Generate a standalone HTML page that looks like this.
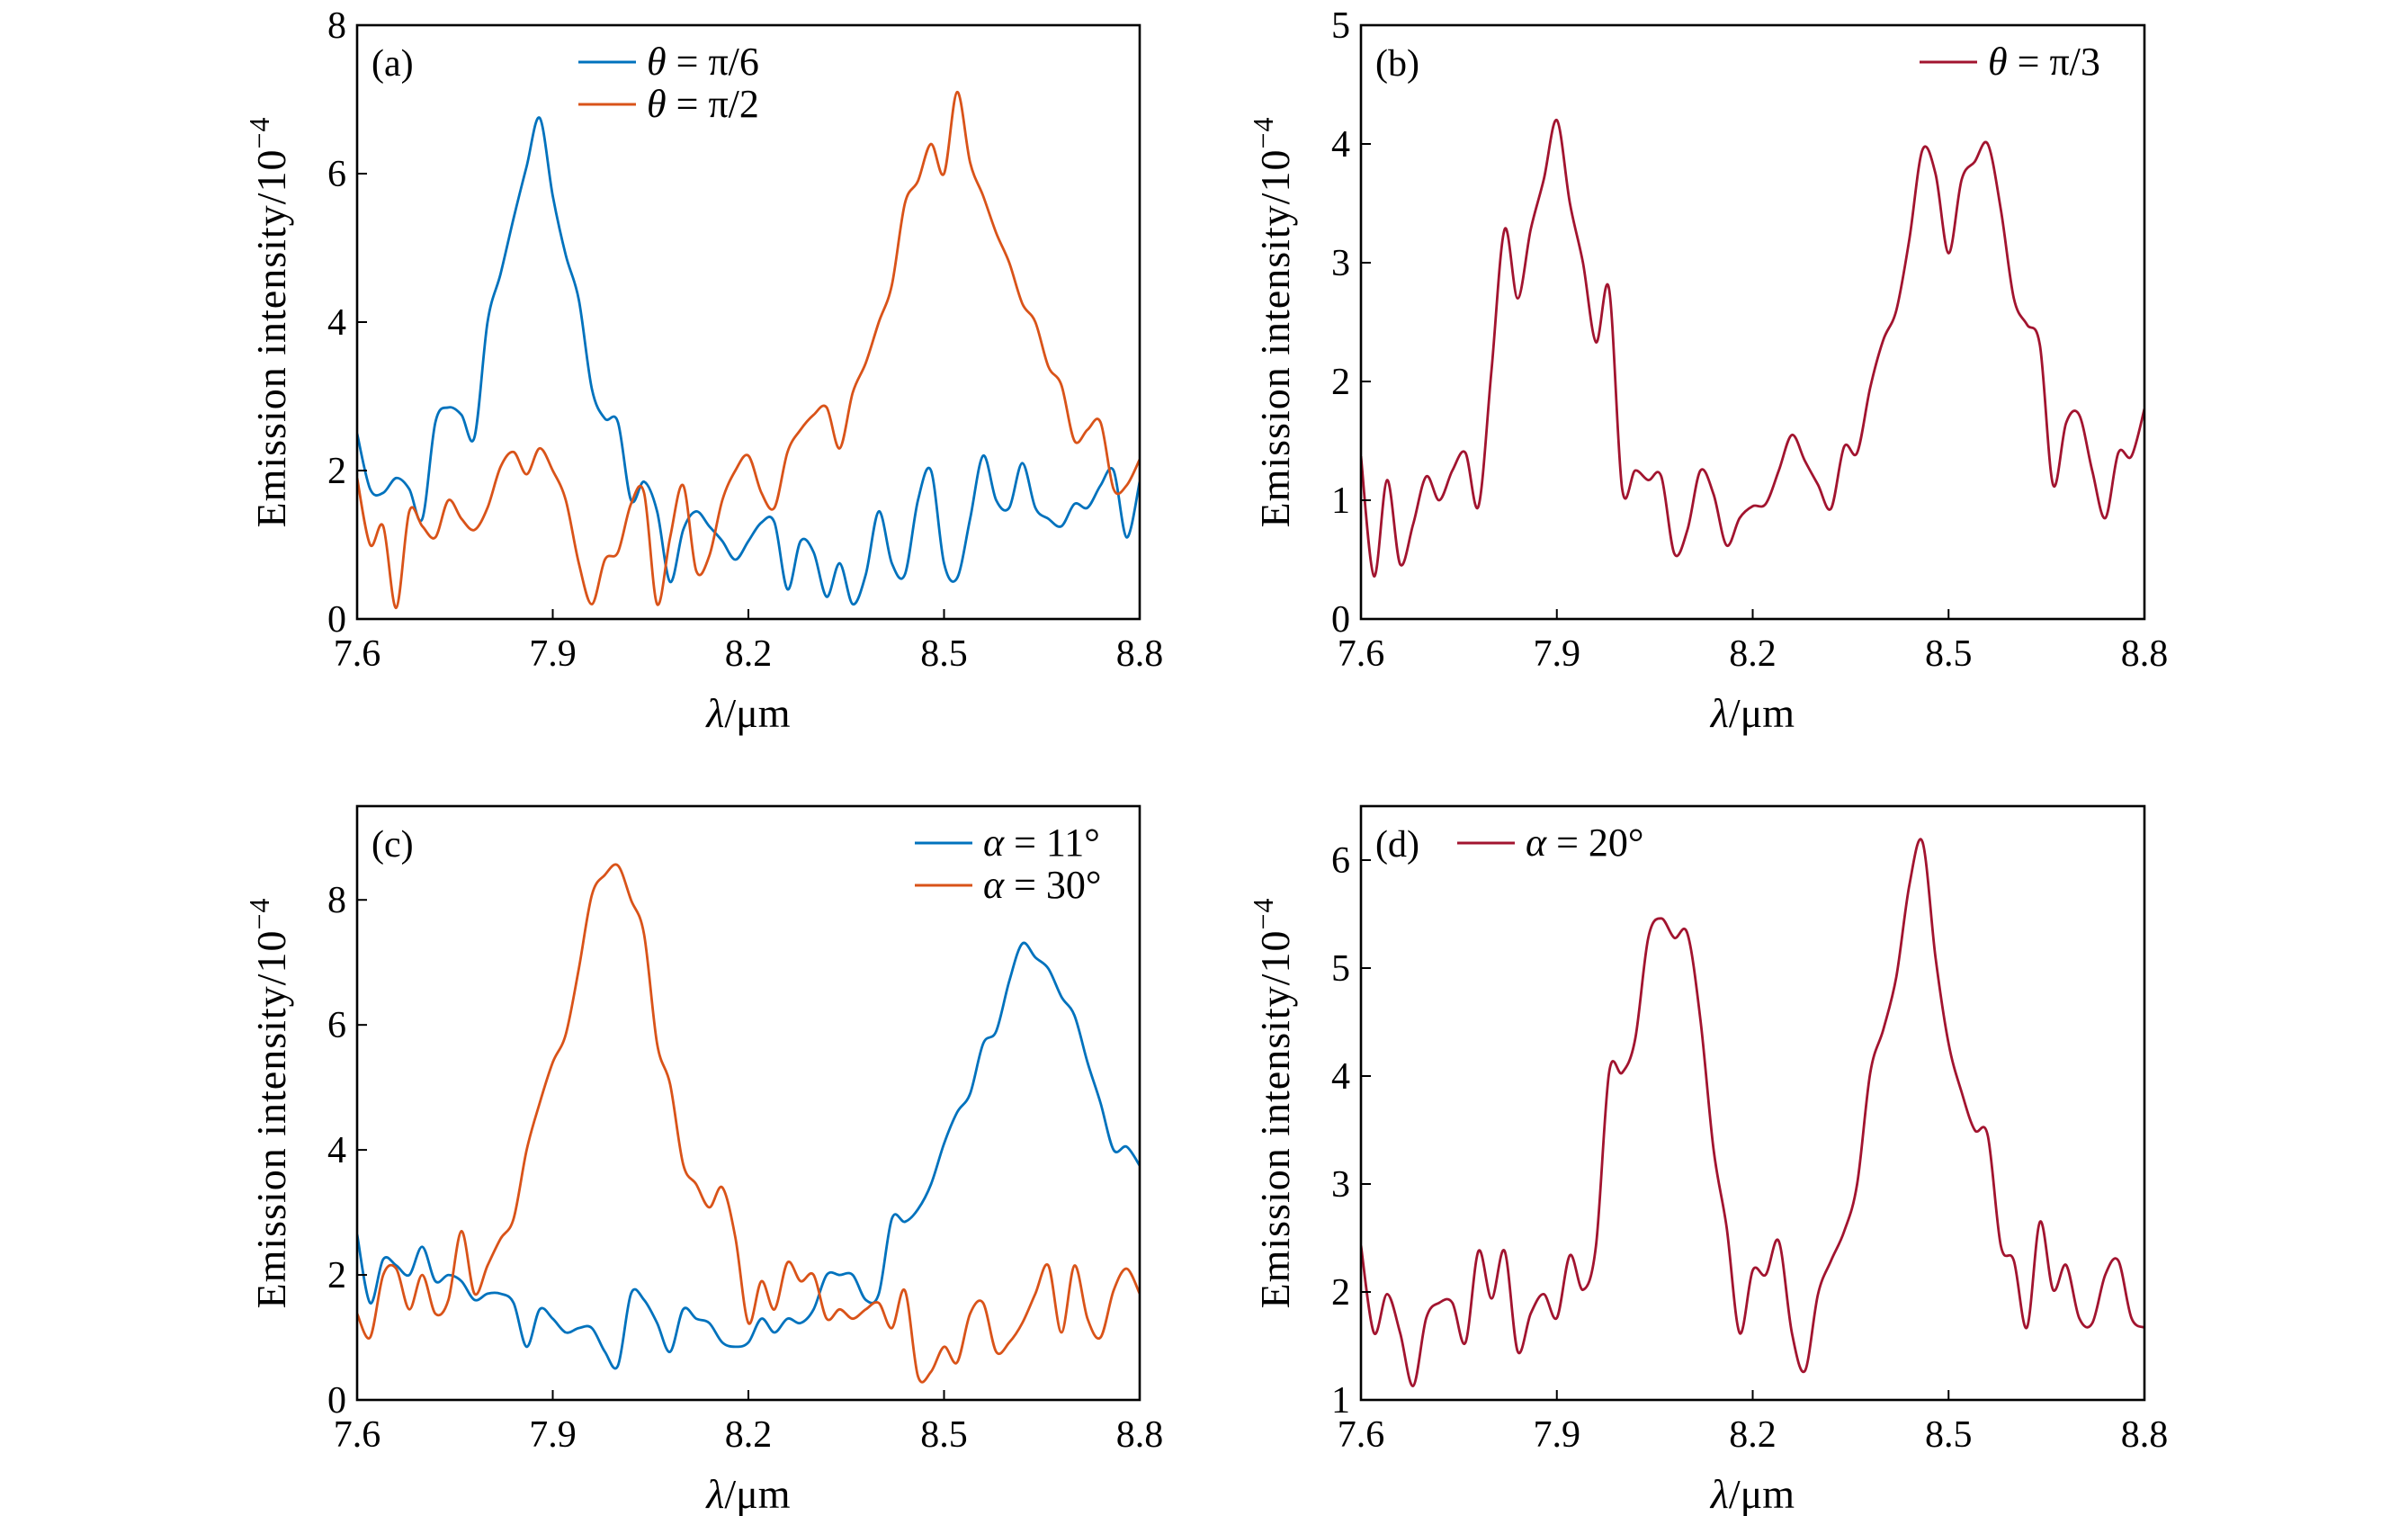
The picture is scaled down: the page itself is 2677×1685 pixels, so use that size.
<!DOCTYPE html>
<html><head><meta charset="utf-8"><style>
html,body{margin:0;padding:0;background:#fff;}
svg{display:block;font-family:"Liberation Serif",serif;}
</style></head><body>
<svg id="fig" width="2677" height="1685" viewBox="0 0 2677 1685" xmlns="http://www.w3.org/2000/svg"></svg>
<script>
const xTicks = [7.6, 7.9, 8.2, 8.5, 8.8];
const xTickLabels = ["7.6", "7.9", "8.2", "8.5", "8.8"];
const wavelength = [];
for (let i = 0; i <= 60; i++) wavelength.push(+(7.6 + i * 0.02).toFixed(2));

const aBlue = [2.5,1.75,1.7,1.9,1.75,1.35,2.65,2.85,2.75,2.45,4.0,4.65,5.4,6.1,6.75,5.7,4.9,4.3,3.1,2.7,2.65,1.6,1.85,1.45,0.5,1.2,1.45,1.25,1.05,0.8,1.05,1.3,1.3,0.4,1.05,0.9,0.3,0.75,0.2,0.6,1.45,0.75,0.6,1.6,2.0,0.75,0.55,1.35,2.2,1.6,1.5,2.1,1.5,1.35,1.25,1.55,1.5,1.8,2.0,1.1,1.85];
const aOrange = [1.9,1.0,1.25,0.15,1.45,1.25,1.1,1.6,1.35,1.2,1.5,2.05,2.25,1.95,2.3,2.0,1.6,0.75,0.2,0.8,0.9,1.55,1.7,0.2,1.1,1.8,0.65,0.85,1.6,2.0,2.2,1.7,1.5,2.25,2.55,2.75,2.85,2.3,3.05,3.45,4.0,4.5,5.6,5.9,6.4,6.0,7.1,6.15,5.7,5.2,4.8,4.25,4.0,3.4,3.15,2.4,2.55,2.65,1.75,1.8,2.15];
const bRed = [1.37,0.36,1.17,0.46,0.8,1.2,1.0,1.25,1.4,0.95,2.1,3.28,2.7,3.28,3.7,4.2,3.5,3.0,2.33,2.78,1.1,1.25,1.17,1.2,0.55,0.75,1.25,1.05,0.62,0.85,0.95,0.97,1.25,1.55,1.33,1.13,0.93,1.45,1.4,1.95,2.35,2.6,3.2,3.95,3.75,3.08,3.7,3.85,4.0,3.45,2.7,2.48,2.3,1.13,1.65,1.72,1.25,0.85,1.4,1.37,1.77];
const cBlue = [2.65,1.55,2.25,2.15,2.0,2.45,1.9,2.0,1.9,1.6,1.7,1.7,1.55,0.85,1.45,1.3,1.08,1.15,1.15,0.77,0.55,1.7,1.6,1.23,0.77,1.45,1.3,1.23,0.92,0.85,0.92,1.3,1.08,1.3,1.23,1.45,2.0,2.0,2.0,1.6,1.7,2.9,2.85,3.05,3.45,4.1,4.6,4.9,5.7,5.9,6.7,7.3,7.08,6.9,6.45,6.15,5.4,4.75,4.0,4.05,3.75];
const cOrange = [1.38,1.0,2.0,2.1,1.45,2.0,1.38,1.6,2.7,1.7,2.15,2.58,2.9,4.0,4.75,5.4,5.85,6.9,8.08,8.4,8.55,8.0,7.45,5.7,5.05,3.77,3.45,3.08,3.4,2.6,1.23,1.9,1.45,2.2,1.9,2.0,1.3,1.45,1.3,1.45,1.55,1.15,1.75,0.38,0.45,0.85,0.6,1.38,1.55,0.77,0.92,1.23,1.7,2.15,1.08,2.15,1.3,1.0,1.75,2.1,1.7];
const dRed = [2.43,1.62,1.98,1.62,1.13,1.76,1.9,1.9,1.53,2.38,1.94,2.38,1.45,1.8,1.98,1.76,2.34,2.02,2.43,4.03,4.03,4.34,5.28,5.46,5.28,5.32,4.52,3.32,2.6,1.62,2.2,2.16,2.47,1.62,1.27,1.98,2.29,2.56,3.0,4.03,4.43,4.92,5.77,6.17,5.1,4.3,3.85,3.5,3.45,2.43,2.29,1.67,2.65,2.02,2.25,1.76,1.71,2.16,2.29,1.76,1.67];

const yTicksA = [0,2,4,6,8], yTicksB = [0,1,2,3,4,5], yTicksC = [0,2,4,6,8], yTicksD = [1,2,3,4,5,6];

const BLUE = "#0072BD", ORANGE = "#D95319", RED = "#A2142F";
const NS = "http://www.w3.org/2000/svg";
const svg = document.getElementById("fig");

function el(tag, attrs, parent) {
  const e = document.createElementNS(NS, tag);
  for (const k in attrs) e.setAttribute(k, attrs[k]);
  (parent || svg).appendChild(e);
  return e;
}

function smoothPath(pts) {
  let d = "M" + pts[0][0].toFixed(1) + "," + pts[0][1].toFixed(1);
  for (let i = 0; i < pts.length - 1; i++) {
    const p0 = pts[Math.max(0, i - 1)], p1 = pts[i], p2 = pts[i + 1], p3 = pts[Math.min(pts.length - 1, i + 2)];
    const c1x = p1[0] + (p2[0] - p0[0]) / 6, c1y = p1[1] + (p2[1] - p0[1]) / 6;
    const c2x = p2[0] - (p3[0] - p1[0]) / 6, c2y = p2[1] - (p3[1] - p1[1]) / 6;
    d += " C" + c1x.toFixed(1) + "," + c1y.toFixed(1) + " " + c2x.toFixed(1) + "," + c2y.toFixed(1) + " " + p2[0].toFixed(1) + "," + p2[1].toFixed(1);
  }
  return d;
}

function panel(cfg) {
  const g = el("g", {});
  
  
  const L = cfg.left, R = cfg.right, T = cfg.top, B = cfg.bottom;
  const xs = v => L + (v - 7.6) / 1.2 * (R - L);
  const ys = v => B - (v - cfg.ymin) / (cfg.ymax - cfg.ymin) * (B - T);
  const clip = el("clipPath", { id: cfg.name + "-clip" }, g);
  el("rect", { x: L, y: T, width: R - L, height: B - T }, clip);
  cfg.series.forEach(s => {
    const pts = wavelength.map((w, i) => [xs(w), ys(s.values[i])]);
    const p = el("path", { d: smoothPath(pts), fill: "none", stroke: s.color, "stroke-width": 2.8, "stroke-linejoin": "round", "clip-path": "url(#" + cfg.name + "-clip)" }, g);
    
    
  });
  const frame = el("rect", { x: L, y: T, width: R - L, height: B - T, fill: "none", stroke: "#000", "stroke-width": 2.6 }, g);
  
  
  xTicks.forEach((t, i) => {
    const x = xs(t);
    el("line", { x1: x, y1: B, x2: x, y2: B - 11, stroke: "#000", "stroke-width": 2 }, g);
    const tx = el("text", { x: x, y: B + 52, "font-size": 42, "text-anchor": "middle" }, g);
    tx.textContent = xTickLabels[i];
    
    
  });
  cfg.yticks.forEach(t => {
    const y = ys(t);
    el("line", { x1: L, y1: y, x2: L + 11, y2: y, stroke: "#000", "stroke-width": 2 }, g);
    const tx = el("text", { x: L - 12, y: y + 14, "font-size": 42, "text-anchor": "end" }, g);
    tx.textContent = String(t);
    
    
  });
  const xl = el("text", { x: (L + R) / 2, y: B + 120, "font-size": 46, "text-anchor": "middle" }, g);
  xl.innerHTML = '<tspan font-style="italic">λ</tspan>/μm';
  
  
  const yl = el("text", { x: 0, y: 0, "font-size": 46, "text-anchor": "middle", "letter-spacing": "1", transform: "translate(" + (L - 80) + "," + ((T + B) / 2) + ") rotate(-90)" }, g);
  yl.innerHTML = 'Emission intensity/10<tspan baseline-shift="super" font-size="32">−4</tspan>';
  
  
  const lab = el("text", { x: L + 16, y: T + 56, "font-size": 42 }, g);
  lab.textContent = cfg.label;
  
  
  cfg.legend.forEach((e, i) => {
    const ly = T + 41 + i * 47;
    const ln = el("line", { x1: e.x, y1: ly, x2: e.x + 64, y2: ly, stroke: e.color, "stroke-width": 3 }, g);
    
    
    const tx = el("text", { x: e.x + 76, y: ly + 14, "font-size": 44, "xml:space": "preserve" }, g);
    tx.innerHTML = e.text;
    
    
  });
}

const TH = '<tspan font-style="italic">θ</tspan>';
const AL = '<tspan font-style="italic">α</tspan>';
panel({ name: "panel-a", label: "(a)", left: 397, right: 1267, top: 28, bottom: 688, ymin: 0, ymax: 8, yticks: yTicksA,
  series: [{ name: "series-theta-pi-6", values: aBlue, color: BLUE }, { name: "series-theta-pi-2", values: aOrange, color: ORANGE }],
  legend: [{ x: 643, color: BLUE, text: TH + "  =  π/6" }, { x: 643, color: ORANGE, text: TH + "  =  π/2" }] });
panel({ name: "panel-b", label: "(b)", left: 1513, right: 2384, top: 28, bottom: 688, ymin: 0, ymax: 5, yticks: yTicksB,
  series: [{ name: "series-theta-pi-3", values: bRed, color: RED }],
  legend: [{ x: 2134, color: RED, text: TH + "  =  π/3" }] });
panel({ name: "panel-c", label: "(c)", left: 397, right: 1267, top: 896, bottom: 1556, ymin: 0, ymax: 9.5, yticks: yTicksC,
  series: [{ name: "series-alpha-11", values: cBlue, color: BLUE }, { name: "series-alpha-30", values: cOrange, color: ORANGE }],
  legend: [{ x: 1017, color: BLUE, text: AL + "  =  11°" }, { x: 1017, color: ORANGE, text: AL + "  =  30°" }] });
panel({ name: "panel-d", label: "(d)", left: 1513, right: 2384, top: 896, bottom: 1556, ymin: 1, ymax: 6.5, yticks: yTicksD,
  series: [{ name: "series-alpha-20", values: dRed, color: RED }],
  legend: [{ x: 1620, color: RED, text: AL + "  =  20°" }] });
</script>
</body></html>
